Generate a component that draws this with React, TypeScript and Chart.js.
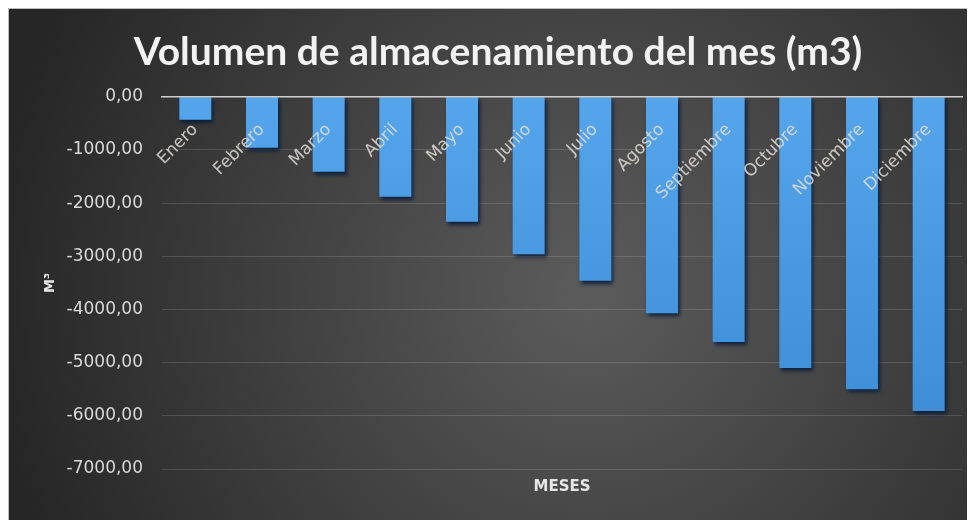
import React, { useEffect, useRef } from "react";
import { Chart, registerables } from "chart.js";

Chart.register(...registerables);

const months = [
  "Enero", "Febrero", "Marzo", "Abril", "Mayo", "Junio",
  "Julio", "Agosto", "Septiembre", "Octubre", "Noviembre", "Diciembre",
];
const volumes = [-430, -960, -1410, -1880, -2350, -2960, -3460, -4070, -4610, -5100, -5500, -5910];
const yTicks = [0, -1000, -2000, -3000, -4000, -5000, -6000, -7000];

const chartTitle = "Volumen de almacenamiento del mes (m3)";
const xTitle = "MESES";
const yTitle = "M³";

const W = 967;
const H = 512;

const bgPlugin = {
  id: "bgPlugin",
  beforeDraw(chart: any) {
    const { ctx, width, height } = chart;
    ctx.save();
    const g = ctx.createRadialGradient(width * 0.6, height * 0.55, 20, width * 0.6, height * 0.55, width * 0.62);
    g.addColorStop(0, "#5a5a5a");
    g.addColorStop(1, "#262626");
    ctx.fillStyle = g;
    ctx.fillRect(0, 0, width, height);
    ctx.strokeStyle = "#bdbdbd";
    ctx.lineWidth = 1;
    ctx.strokeRect(0.5, 0.5, width + 10, height + 10);
    ctx.restore();
  },
};

const shadowPlugin = {
  id: "shadowPlugin",
  beforeDatasetsDraw(chart: any) {
    const ctx = chart.ctx;
    ctx.save();
    ctx.shadowColor = "rgba(5, 25, 55, 0.85)";
    ctx.shadowOffsetX = 2;
    ctx.shadowOffsetY = 3;
    ctx.shadowBlur = 4;
  },
  afterDatasetsDraw(chart: any) {
    chart.ctx.restore();
  },
};

export default function App() {
  const ref = useRef<HTMLCanvasElement>(null);

  useEffect(() => {
    document.documentElement.style.overflow = "hidden";
    const canvas = ref.current!;
    const chart = new Chart(canvas, {
      type: "bar",
      data: {
        labels: months,
        datasets: [
          {
            data: volumes,
            xAxisID: "x",
            yAxisID: "y",
            backgroundColor: (c: any) => {
              const area = c.chart.chartArea;
              if (!area) return "#4a9be4";
              const g = c.chart.ctx.createLinearGradient(0, area.top, 0, area.bottom);
              g.addColorStop(0, "#55a5ec");
              g.addColorStop(1, "#3a8ad4");
              return g;
            },
            borderWidth: 0,
            barPercentage: 0.48,
            categoryPercentage: 1,
          },
        ],
      },
      options: {
        responsive: false,
        animation: false,
        layout: { padding: { left: 26, right: 13, top: 0, bottom: 0 } },
        plugins: {
          legend: { display: false },
          tooltip: { enabled: false },
          title: {
            display: true,
            text: chartTitle,
            color: "#f2f2f2",
            font: { family: "Lato", size: 39, weight: "bold" },
            padding: { top: 21, bottom: 21 },
          },
        },
        scales: {
          x: {
            type: "category",
            position: { y: 0 } as any,
            grid: { display: false, drawTicks: false },
            border: { display: true, color: "#cfcfcf", width: 1.5, z: 1 },
            ticks: {
              z: 1,
              color: "rgba(228, 222, 214, 0.85)",
              font: { family: "DejaVu Sans", size: 17 },
              minRotation: 45,
              maxRotation: 45,
              padding: 23,
              autoSkip: false,
            },
            afterFit: (s: any) => {
              s.height = 0;
            },
          },
          x2: {
            type: "category",
            position: "bottom",
            grid: { display: false, drawTicks: false },
            border: { display: false },
            ticks: { display: false },
            title: {
              display: true,
              text: xTitle,
              color: "#e6e6e6",
              font: { family: "DejaVu Sans", size: 15, weight: "bold" },
              padding: { top: 0, bottom: 24 },
            },
            afterFit: (s: any) => {
              s.height = 51;
            },
          },
          y: {
            type: "linear",
            position: "left",
            min: -7000,
            max: 0,
            border: { display: false },
            grid: {
              drawTicks: false,
              color: (c: any) => (c.tick && c.tick.value === 0 ? "#cfcfcf" : "rgba(255,255,255,0.14)"),
              lineWidth: 1,
            },
            afterBuildTicks: (s: any) => {
              s.ticks = yTicks.map((v) => ({ value: v }));
            },
            ticks: {
              color: "#d9d9d9",
              font: { family: "DejaVu Sans", size: 17 },
              padding: 19,
              callback: (v: any) => Number(v).toFixed(2).replace(".", ","),
            },
            title: {
              display: true,
              text: yTitle,
              color: "#e6e6e6",
              font: { family: "DejaVu Sans", size: 14, weight: "bold" },
              padding: { top: 8, bottom: 0 },
            },
            afterFit: (s: any) => {
              s.width = 128;
            },
          },
        },
      },
      plugins: [bgPlugin, shadowPlugin],
    });
    return () => chart.destroy();
  }, []);

  return (
    <div style={{ width: W, height: H }}>
      <canvas ref={ref} width={W} height={H} style={{ display: "block" }} />
    </div>
  );
}
